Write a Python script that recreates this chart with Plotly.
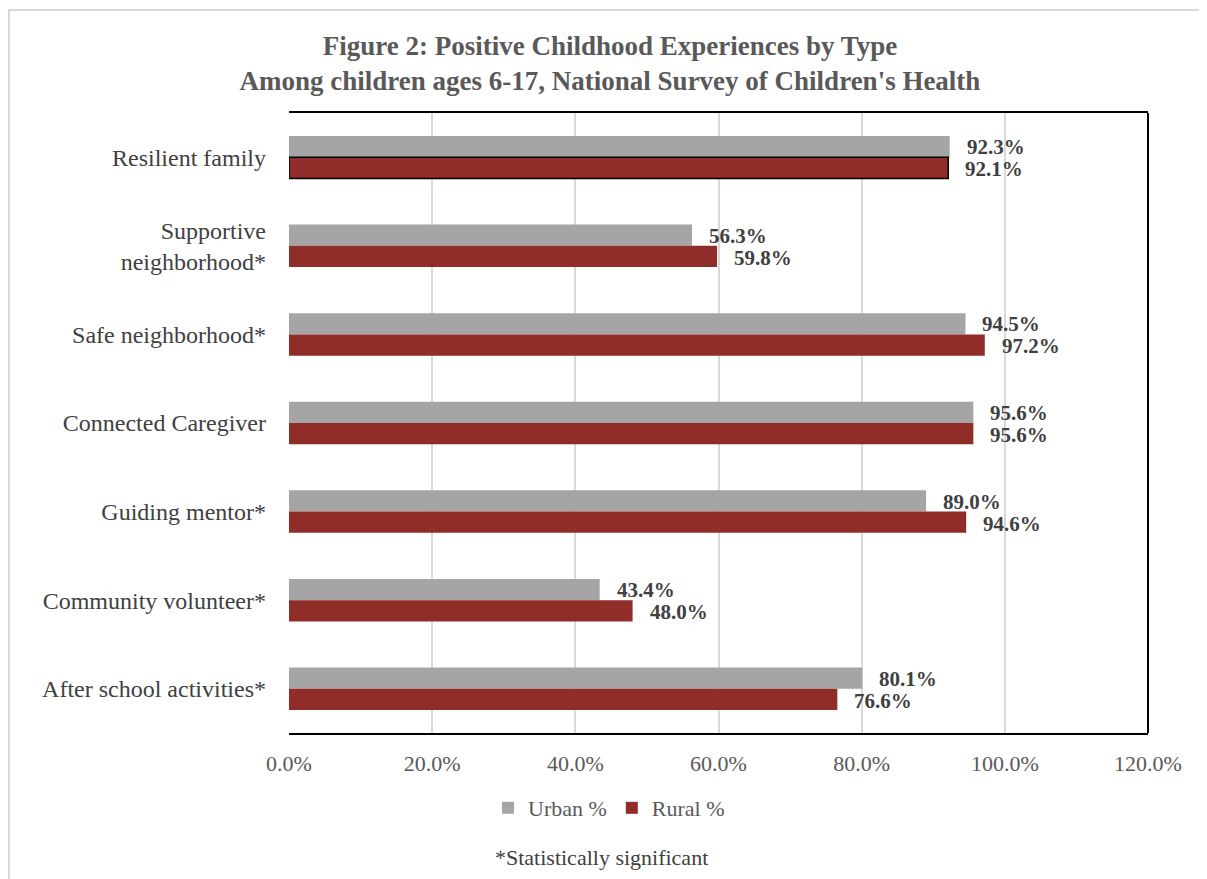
import plotly.graph_objects as go

categories = ["Resilient family", "Supportive<br>neighborhood*", "Safe neighborhood*",
              "Connected Caregiver", "Guiding mentor*", "Community volunteer*",
              "After school activities*"]
urban = [92.3, 56.3, 94.5, 95.6, 89.0, 43.4, 80.1]
rural = [92.1, 59.8, 97.2, 95.6, 94.6, 48.0, 76.6]
x_ticks = [0, 20, 40, 60, 80, 100, 120]
x_tick_labels = ["0.0%", "20.0%", "40.0%", "60.0%", "80.0%", "100.0%", "120.0%"]

FONT = "Liberation Serif"
OFF = 8  # page body margin
W, H = 1207 - OFF, 879 - OFF
L, T = 289 - OFF, 113 - OFF
R = W - (1148 - OFF)
B = H - (733 - OFF)
PW, PH = W - L - R, H - T - B


def px_x(page_x):
    return (page_x - OFF - L) / PW


def px_y(page_y):
    return (H - B - (page_y - OFF)) / PH


fig = go.Figure()
fig.add_trace(go.Bar(
    y=categories, x=urban, orientation="h", name="Urban %", offsetgroup="urban",
    marker=dict(color="#a5a5a5", line=dict(width=0)),
))
fig.add_trace(go.Bar(
    y=categories, x=rural, orientation="h", name="Rural %", offsetgroup="rural",
    marker=dict(color="#902d28", line=dict(width=0)),
))
# black outline on the first rural bar
fig.add_trace(go.Bar(
    y=categories[:1], x=rural[:1], orientation="h", offsetgroup="rural", showlegend=False,
    marker=dict(color="rgba(0,0,0,0)", line=dict(color="black", width=1.5)),
    hoverinfo="skip",
))

label_font = dict(family=FONT, size=21, color="#404040", weight="bold")
annotations = []
for i, (u, r) in enumerate(zip(urban, rural)):
    annotations.append(dict(x=u, y=i, xref="x", yref="y", text=f"{u:.1f}%",
                            xanchor="left", yanchor="middle", xshift=15, yshift=10,
                            showarrow=False, font=label_font))
    annotations.append(dict(x=r, y=i, xref="x", yref="y", text=f"{r:.1f}%",
                            xanchor="left", yanchor="middle", xshift=15, yshift=-12,
                            showarrow=False, font=label_font))

annotations.append(dict(x=px_x(601), y=px_y(857), xref="paper", yref="paper",
                        text="*Statistically significant",
                        showarrow=False, xanchor="center", yanchor="middle",
                        font=dict(family=FONT, size=22, color="#404040")))

shapes = [
    dict(type="rect", xref="paper", yref="paper",
         x0=px_x(OFF + 1), x1=px_x(1260), y0=px_y(950), y1=px_y(OFF + 2),
         line=dict(color="#d9d9d9", width=2), fillcolor="rgba(0,0,0,0)", layer="below"),
    dict(type="line", xref="paper", yref="paper", x0=1, x1=1, y0=0, y1=1,
         line=dict(color="black", width=2)),
]

fig.update_layout(
    width=W, height=H,
    margin=dict(l=L, r=R, t=T, b=B, autoexpand=False),
    paper_bgcolor="white", plot_bgcolor="white",
    barmode="group", bargap=0.52, bargroupgap=0,
    title=dict(
        text="Figure 2: Positive Childhood Experiences by Type<br>Among children ages 6-17, National Survey of Children's Health",
        x=(610 - OFF) / W, xanchor="center", y=1 - (55 - OFF) / H, yanchor="middle",
        font=dict(family=FONT, size=27, color="#595959", weight="bold"),
    ),
    xaxis=dict(range=[0, 120], tickvals=x_ticks, ticktext=x_tick_labels,
               showgrid=True, gridcolor="#d9d9d9", gridwidth=1.5,
               zeroline=False, showline=True, mirror=True, linecolor="black", linewidth=2,
               ticks="", tickfont=dict(family=FONT, size=22, color="#595959"), ticklabelstandoff=10),
    yaxis=dict(autorange="reversed", showgrid=False, showline=False, ticks="",
               tickfont=dict(family=FONT, size=24, color="#404040"), ticklabelstandoff=22),
    legend=dict(orientation="h", x=px_x(609), xanchor="center",
                y=px_y(808), yanchor="middle",
                font=dict(family=FONT, size=22, color="#595959"), traceorder="normal"),
    annotations=annotations,
    shapes=shapes,
    showlegend=True,
)

fig.write_html("out.html")
